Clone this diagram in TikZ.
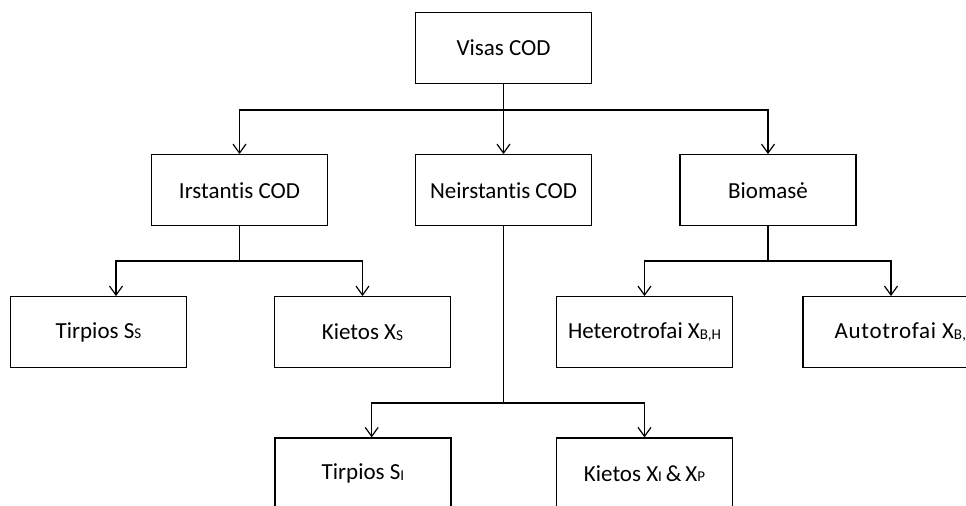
\documentclass[tikz,border=0pt]{standalone}
\usepackage{fontspec}
\setmainfont{Carlito}[Ligatures=NoCommon]
\usetikzlibrary{arrows.meta}
\tikzset{>={Straight Barb[length=4.5pt,width=6.5pt]}}
\tikzset{codbox/.style={draw, line width=0.6pt, minimum width=88pt, minimum height=35.5pt, inner sep=0pt, font=\fontsize{11.5}{14}\selectfont}}
\newcommand{\lowsub}[1]{\raisebox{-0.3pt}{\fontsize{7.5}{9}\selectfont #1}}

\begin{document}
\begin{tikzpicture}[x=0.5pt, y=-0.5pt, line width=0.6pt]
\clip (0, 0) rectangle (966, 506);
\node[codbox] (visas) at (503.5, 48) {Visas COD};
\node[codbox] (irst) at (239.5, 190.2) {Irstantis COD};
\node[codbox] (neir) at (503.5, 190.2) {Neirstantis COD};
\node[codbox] (bio) at (768, 190.2) {Biomasė};
\node[codbox] (ss) at (98.5, 332.2) {Tirpios S\lowsub{S}};
\node[codbox] (xs) at (362.5, 332.2) {Kietos X\lowsub{S}};
\node[codbox] (xbh) at (644.5, 332.2) {Heterotrofai X\lowsub{B,H}};
\node[codbox] (xba) at (891, 332.2) {\makebox[88pt][l]{\hspace{15.8pt}\addfontfeature{LetterSpace=3}Autotrofai X\lowsub{B,A}}};
\node[codbox] (si) at (363, 473.5) {Tirpios S\lowsub{I}};
\node[codbox] (xip) at (644.5, 473.5) {Kietos X\lowsub{I}\,\&\,X\lowsub{P}};
\coordinate (b0) at (503.5, 110);
\coordinate (b1) at (239.5, 261);
\coordinate (b2) at (768, 261);
\coordinate (b3) at (503.5, 403);
\draw (visas) -- (b0);
\draw[->] (b0) -| (irst);
\draw[->] (b0) -- (neir);
\draw[->] (b0) -| (bio);
\draw (irst) -- (b1);
\draw[->] (b1) -| ([xshift=8.75pt]ss.north);
\draw[->] (b1) -| (xs);
\draw (bio) -- (b2);
\draw[->] (b2) -| (xbh);
\draw[->] (b2) -| (xba);
\draw (neir) -- (b3);
\draw[->] (b3) -| ([xshift=4.35pt]si.north);
\draw[->] (b3) -| (xip);
\end{tikzpicture}
\end{document}
